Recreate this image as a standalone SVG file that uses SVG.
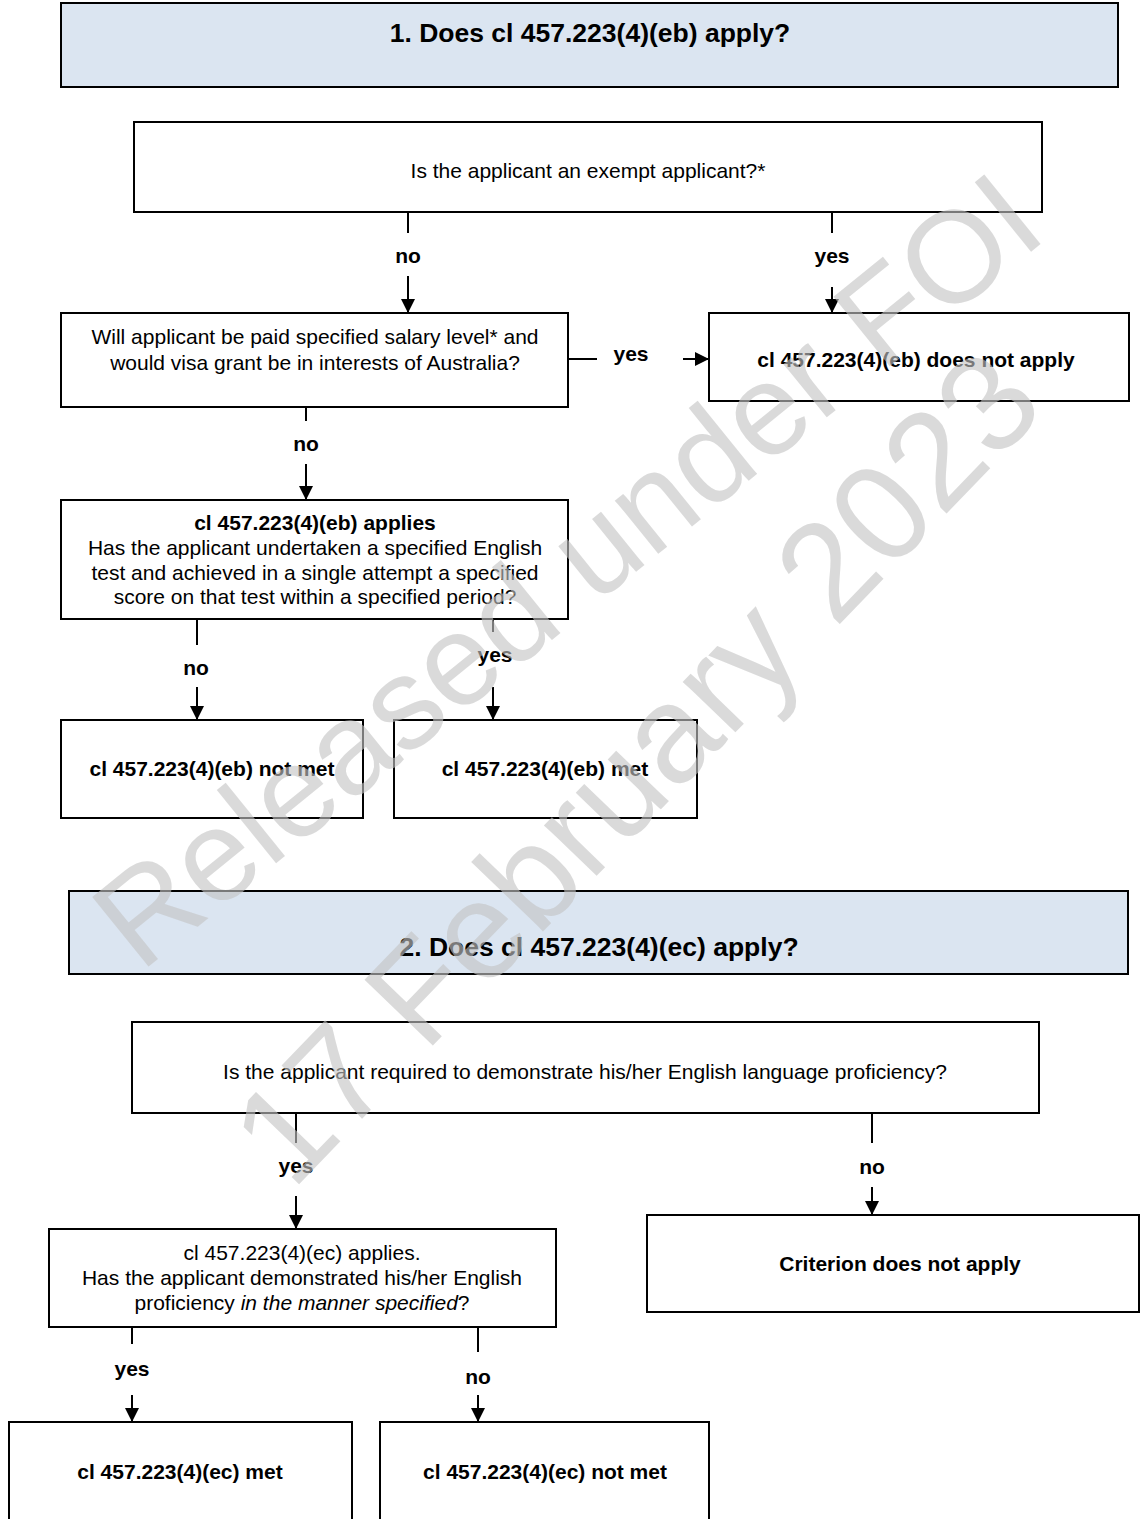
<svg xmlns="http://www.w3.org/2000/svg" width="1141" height="1519" viewBox="0 0 1141 1519">
<style>
.box{fill:#ffffff;stroke:#000;stroke-width:2}
.hdr{fill:#dbe5f1;stroke:#000;stroke-width:2}
.t{font-family:"Liberation Sans",Arial,sans-serif;font-size:21px;fill:#000;text-anchor:middle}
.b{font-weight:bold}
.title{font-family:"Liberation Sans",Arial,sans-serif;font-size:26.5px;font-weight:bold;fill:#000;text-anchor:middle}
.lbl{font-family:"Liberation Sans",Arial,sans-serif;font-size:21px;font-weight:bold;fill:#000;text-anchor:middle}
.c{stroke:#000;stroke-width:2;fill:none}
.a{stroke:#000;stroke-width:2;fill:none;marker-end:url(#arr)}
.wm{font-family:"Liberation Sans",Arial,sans-serif;fill:#c3c3c3;fill-opacity:0.62;text-anchor:middle}
</style>
<defs>
<marker id="arr" markerUnits="userSpaceOnUse" markerWidth="14" markerHeight="14" refX="14" refY="7" orient="auto">
<path d="M0,0 L14,7 L0,14 z" fill="#000"/>
</marker>
</defs>
<rect width="1141" height="1519" fill="#fff"/>

<g id="header1"><rect class="hdr" x="61" y="3" width="1057" height="84"/><text class="title" x="590" y="42">1. Does cl 457.223(4)(eb) apply?</text></g>
<g id="boxA"><rect class="box" x="134" y="122" width="908" height="90"/><text class="t" x="588" y="178">Is the applicant an exempt applicant?*</text></g>
<g id="boxB"><rect class="box" x="61" y="313" width="507" height="94"/><text class="t" x="315" y="344">Will applicant be paid specified salary level* and</text><text class="t" x="315" y="370">would visa grant be in interests of Australia?</text></g>
<g id="boxC"><rect class="box" x="709" y="313" width="420" height="88"/><text class="t b" x="916" y="367">cl 457.223(4)(eb) does not apply</text></g>
<g id="boxD"><rect class="box" x="61" y="500" width="507" height="119"/><text class="t b" x="315" y="530">cl 457.223(4)(eb) applies</text><text class="t" x="315" y="555">Has the applicant undertaken a specified English</text><text class="t" x="315" y="580">test and achieved in a single attempt a specified</text><text class="t" x="315" y="604">score on that test within a specified period?</text></g>
<g id="boxE"><rect class="box" x="61" y="720" width="302" height="98"/><text class="t b" x="212" y="776">cl 457.223(4)(eb) not met</text></g>
<g id="boxF"><rect class="box" x="394" y="720" width="303" height="98"/><text class="t b" x="545" y="776">cl 457.223(4)(eb) met</text></g>

<g id="header2"><rect class="hdr" x="69" y="891" width="1059" height="83"/><text class="title" x="599" y="956">2. Does cl 457.223(4)(ec) apply?</text></g>
<g id="boxG"><rect class="box" x="132" y="1022" width="907" height="91"/><text class="t" x="585" y="1079">Is the applicant required to demonstrate his/her English language proficiency?</text></g>
<g id="boxH"><rect class="box" x="647" y="1215" width="492" height="97"/><text class="t b" x="900" y="1271">Criterion does not apply</text></g>
<g id="boxI"><rect class="box" x="49" y="1229" width="507" height="98"/><text class="t" x="302" y="1260">cl 457.223(4)(ec) applies.</text><text class="t" x="302" y="1285">Has the applicant demonstrated his/her English</text><text class="t" x="302" y="1310">proficiency <tspan font-style="italic">in the manner specified</tspan>?</text></g>
<g id="boxJ"><rect class="box" x="9" y="1422" width="343" height="110"/><text class="t b" x="180" y="1479">cl 457.223(4)(ec) met</text></g>
<g id="boxK"><rect class="box" x="380" y="1422" width="329" height="110"/><text class="t b" x="545" y="1479">cl 457.223(4)(ec) not met</text></g>

<g id="connectors">
<line class="c" x1="408" y1="212" x2="408" y2="233"/>
<text class="lbl" x="408" y="263">no</text>
<line class="a" x1="408" y1="276" x2="408" y2="313"/>
<line class="c" x1="832" y1="212" x2="832" y2="233"/>
<text class="lbl" x="832" y="263">yes</text>
<line class="a" x1="832" y1="287" x2="832" y2="313"/>
<line class="c" x1="568" y1="359" x2="597" y2="359"/>
<text class="lbl" x="631" y="361">yes</text>
<line class="a" x1="683" y1="359" x2="709" y2="359"/>
<line class="c" x1="306" y1="407" x2="306" y2="421"/>
<text class="lbl" x="306" y="451">no</text>
<line class="a" x1="306" y1="464" x2="306" y2="500"/>
<line class="c" x1="197" y1="619" x2="197" y2="645"/>
<text class="lbl" x="196" y="675">no</text>
<line class="a" x1="197" y1="687" x2="197" y2="720"/>
<line class="c" x1="493" y1="619" x2="493" y2="632"/>
<text class="lbl" x="495" y="662">yes</text>
<line class="a" x1="493" y1="687" x2="493" y2="720"/>
<line class="c" x1="296" y1="1113" x2="296" y2="1143"/>
<text class="lbl" x="296" y="1173">yes</text>
<line class="a" x1="296" y1="1196" x2="296" y2="1229"/>
<line class="c" x1="872" y1="1113" x2="872" y2="1143"/>
<text class="lbl" x="872" y="1174">no</text>
<line class="a" x1="872" y1="1187" x2="872" y2="1215"/>
<line class="c" x1="132" y1="1327" x2="132" y2="1344"/>
<text class="lbl" x="132" y="1376">yes</text>
<line class="a" x1="132" y1="1395" x2="132" y2="1422"/>
<line class="c" x1="478" y1="1327" x2="478" y2="1352"/>
<text class="lbl" x="478" y="1384">no</text>
<line class="a" x1="478" y1="1395" x2="478" y2="1422"/>
</g>

<g id="watermark">
<text class="wm" font-size="130" transform="translate(595,605) rotate(-39)">Released under FOI</text>
<text class="wm" font-size="138" transform="translate(670,800) rotate(-46)">17 February 2023</text>
</g>
</svg>
